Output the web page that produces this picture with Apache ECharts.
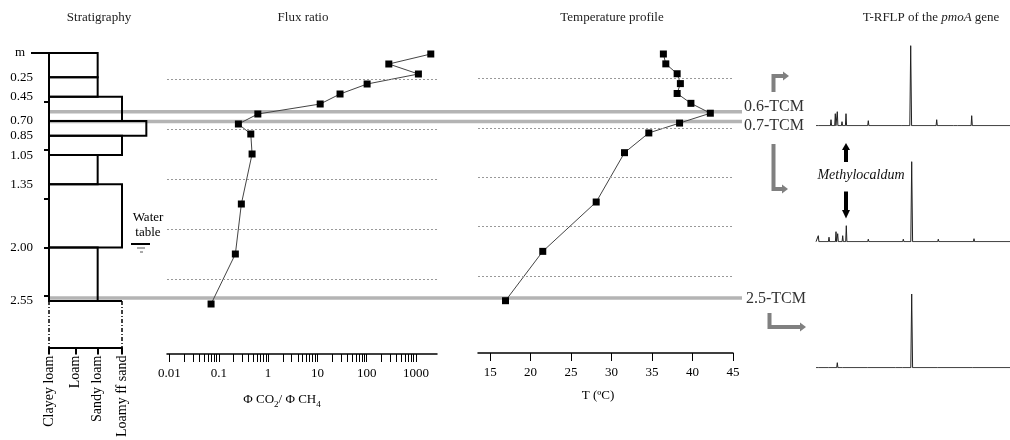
<!DOCTYPE html>
<html><head><meta charset="utf-8">
<script src="https://cdn.jsdelivr.net/npm/echarts@6/dist/echarts.min.js"></script>
<style>html,body{margin:0;padding:0;background:#fff}#c{width:1010px;height:440px}</style>
</head><body><div id="c"></div>
<script>
const FONT = '"Liberation Serif","Times New Roman",serif';

// ---- Stratigraphy ----
const textureNames = ['Clayey loam', 'Loam', 'Sandy loam', 'Loamy ff sand'];
const texturePos = [0, 1.1, 2, 3];
const layerTop = [0, 0.25, 0.45, 0.70, 0.85, 1.05, 1.35, 2.00, 2.55];
const layerBottom = [0.25, 0.45, 0.70, 0.85, 1.05, 1.35, 2.00, 2.55, 3.03];
const layerTexture = [2, 2, 3, 4, 3, 2, 3, 2, 3];
const layerUncertain = [0, 0, 0, 0, 0, 0, 0, 0, 1];
const depthLabels = [0.25, 0.45, 0.70, 0.85, 1.05, 1.35, 2.00, 2.55];
const depthTicks = [0.5, 1, 1.5, 2, 2.5];

// ---- Flux ratio & temperature profiles ----
const sampleDepth = [0, 0.1, 0.2, 0.3, 0.4, 0.5, 0.6, 0.7, 0.8, 1.0, 1.5, 2.0, 2.5];
const fluxRatio = [1995, 281, 1119, 102, 28.8, 11.4, 0.62, 0.25, 0.446, 0.474, 0.287, 0.217, 0.0698];
const fluxTickValues = [0.01, 0.1, 1, 10, 100, 1000];
const fluxTickLabels = ['0.01', '0.1', '1', '10', '100', '1000'];
const temperature = [36.4, 36.7, 38.1, 38.5, 38.1, 39.8, 42.2, 38.4, 34.6, 31.6, 28.1, 21.5, 16.9];
const tempTicks = [15, 20, 25, 30, 35, 40, 45];
const gridDepths = [0.25, 0.75, 1.25, 1.75, 2.25];

// ---- Sampling depths (TCM) ----
const tcmDepths = [0.6, 0.7, 2.5];
const tcmLabels = ['0.6-TCM', '0.7-TCM', '2.5-TCM'];

// ---- T-RFLP peaks [relative position, relative height] ----
const peaks06 = [[3.3, 2], [15, 6], [19.3, 12], [21.3, 14], [26, 4], [30, 12], [52.3, 5], [85.7, 2], [94.7, 80], [120.7, 6], [138, 1.5], [142, 1.5], [155.7, 10]];
const peaks07 = [[2.3, 6], [13, 4.5], [20, 10], [21.7, 8], [26.7, 6], [30.3, 16], [52.3, 2.5], [87.3, 2.5], [95.7, 80], [122.3, 2.5], [158, 3]];
const peaks25 = [[3.3, 2], [13, 2], [21.3, 5], [27, 1], [52.3, 1.5], [80, 1], [87.3, 1], [95.7, 73.7], [122.3, 2], [157.3, 2]];
const traceEnd = 194;

function trace(peaks) {
  const pts = [[0, 0]];
  peaks.forEach(([p, h]) => {
    const w = h > 30 ? 0.9 : 0.6;
    pts.push([p - w, 0], [p, h], [p + w, 0]);
  });
  pts.push([traceEnd, 0]);
  return pts;
}

const fluxMinor = [];
for (let e = -2; e <= 2; e++) for (let m = 1; m <= 9; m++) fluxMinor.push(Math.log10(m) + e);
fluxMinor.push(3);

const axisTxt = { fontFamily: FONT, fontSize: 13, color: '#000' };

function hiddenAxis(extra) { return Object.assign({ show: false, splitLine: { show: false } }, extra); }

const chart = echarts.init(document.getElementById('c'), null, { renderer: 'canvas' });

const gridLineMark = {
  silent: true, symbol: ['none', 'none'], label: { show: false },
  lineStyle: { type: [2, 2], color: '#999', width: 1 },
  data: gridDepths.map(d => ({ yAxis: d }))
};

function txt(x, y, text, size, extra) {
  return {
    type: 'text', x: x, y: y, silent: true,
    style: Object.assign({
      text: text, font: size + 'px ' + FONT, fill: '#222',
      align: 'center', verticalAlign: 'middle', textAlign: 'center', textVerticalAlign: 'middle'
    }, extra || {})
  };
}
function line(x1, y1, x2, y2, stroke, w) {
  return { type: 'line', silent: true, shape: { x1, y1, x2, y2 }, style: { stroke: stroke, lineWidth: w } };
}
function poly(points, fill) {
  return { type: 'polygon', silent: true, shape: { points: points }, style: { fill: fill } };
}
function polyl(points, stroke, w) {
  return { type: 'polyline', silent: true, shape: { points: points }, style: { stroke: stroke, lineWidth: w, fill: null, lineJoin: 'miter' } };
}

const option = {
  animation: false,
  backgroundColor: '#fff',
  textStyle: { fontFamily: FONT },
  grid: [
    { left: 49, top: 53, width: 73, height: 297 },          // 0 stratigraphy
    { left: 167, top: 54, width: 270, height: 300 },        // 1 flux
    { left: 478, top: 54, width: 255, height: 299 },        // 2 temperature
    { left: 816, top: 44.7, width: 194, height: 81 },       // 3 trace 0.6
    { left: 816, top: 160.7, width: 194, height: 81 },      // 4 trace 0.7
    { left: 816, top: 286.7, width: 194, height: 81 },      // 5 trace 2.5
    { left: 50, top: 53, width: 692, height: 297 }          // 6 TCM lines overlay
  ],
  xAxis: [
    {
      gridIndex: 0, type: 'value', min: 0, max: 3, position: 'bottom',
      axisLine: { onZero: false, lineStyle: { color: '#000', width: 2 } },
      axisTick: { customValues: texturePos, length: 7, lineStyle: { color: '#000', width: 2 } },
      axisLabel: {
        customValues: texturePos, rotate: 90, margin: 8, fontFamily: FONT, fontSize: 14, color: '#000',
        formatter: v => {
          let best = 0;
          texturePos.forEach((p, i) => { if (Math.abs(p - v) < Math.abs(texturePos[best] - v)) best = i; });
          return textureNames[best];
        }
      },
      splitLine: { show: false }
    },
    {
      gridIndex: 1, type: 'value', min: -2.05, max: 3.426, position: 'bottom',
      axisLine: { onZero: false, lineStyle: { color: '#000', width: 1.5 } },
      axisTick: { customValues: fluxMinor, length: 8, lineStyle: { color: '#000', width: 1 } },
      axisLabel: Object.assign({
        customValues: fluxTickValues.map(v => Math.log10(v)), margin: 13,
        formatter: v => fluxTickLabels[Math.round(v) + 2]
      }, axisTxt),
      splitLine: { show: false },
      name: 'Φ CO{s|2}/ Φ CH{s|4}', nameLocation: 'middle', nameGap: 36,
      nameTextStyle: {
        fontFamily: FONT, fontSize: 13, color: '#000', lineHeight: 19, padding: [0, 40, 0, 0],
        rich: { s: { fontFamily: FONT, fontSize: 9, lineHeight: 9, verticalAlign: 'bottom', color: '#000' } }
      }
    },
    {
      gridIndex: 2, type: 'value', min: 13.5, max: 45, position: 'bottom',
      axisLine: { onZero: false, lineStyle: { color: '#000', width: 1.5 } },
      axisTick: { customValues: tempTicks, length: 8, lineStyle: { color: '#000', width: 1 } },
      axisLabel: Object.assign({ customValues: tempTicks, margin: 13 }, axisTxt),
      splitLine: { show: false },
      name: 'T (ºC)', nameLocation: 'middle', nameGap: 36,
      nameTextStyle: { fontFamily: FONT, fontSize: 13, color: '#000', padding: [0, 15, 0, 0] }
    },
    hiddenAxis({ gridIndex: 3, type: 'value', min: 0, max: traceEnd }),
    hiddenAxis({ gridIndex: 4, type: 'value', min: 0, max: traceEnd }),
    hiddenAxis({ gridIndex: 5, type: 'value', min: 0, max: traceEnd }),
    hiddenAxis({ gridIndex: 6, type: 'value', min: 0, max: 1 })
  ],
  yAxis: [
    {
      gridIndex: 0, type: 'value', inverse: true, min: 0, max: 3.03,
      axisLine: { show: false, onZero: false },
      axisTick: { show: true, customValues: depthTicks, length: 5, lineStyle: { color: '#000', width: 2 } },
      axisLabel: Object.assign({ customValues: depthLabels, margin: 16, formatter: v => v.toFixed(2) }, axisTxt),
      splitLine: { show: false }
    },
    hiddenAxis({ gridIndex: 1, type: 'value', inverse: true, min: 0, max: 3 }),
    hiddenAxis({ gridIndex: 2, type: 'value', inverse: true, min: 0, max: 3.03 }),
    hiddenAxis({ gridIndex: 3, type: 'value', min: 0, max: 81 }),
    hiddenAxis({ gridIndex: 4, type: 'value', min: 0, max: 81 }),
    hiddenAxis({ gridIndex: 5, type: 'value', min: 0, max: 81 }),
    hiddenAxis({ gridIndex: 6, type: 'value', inverse: true, min: 0, max: 3.03 })
  ],
  series: [
    {
      type: 'custom', xAxisIndex: 6, yAxisIndex: 6, z: 1, silent: true, clip: false,
      data: tcmDepths.map(d => [d]),
      renderItem: (params, api) => {
        const d = api.value(0);
        const a = api.coord([0, d]), b = api.coord([1, d]);
        return { type: 'line', shape: { x1: a[0], y1: a[1], x2: b[0], y2: b[1] }, style: { stroke: '#b4b4b4', lineWidth: 3.5 } };
      }
    },
    {
      type: 'custom', xAxisIndex: 0, yAxisIndex: 0, z: 3, silent: true, clip: false,
      data: layerTop.map((t, i) => [t, layerBottom[i], layerTexture[i], layerUncertain[i]]),
      renderItem: (params, api) => {
        const top = api.value(0), bot = api.value(1), tex = api.value(2), unc = api.value(3);
        const a = api.coord([0, top]), b = api.coord([tex, bot]);
        const st = { stroke: '#000', lineWidth: 2, fill: 'none' };
        const children = [];
        if (!unc) {
          children.push({ type: 'rect', shape: { x: a[0], y: a[1], width: b[0] - a[0], height: b[1] - a[1] }, style: st });
        } else {
          children.push({ type: 'line', shape: { x1: a[0], y1: a[1], x2: b[0], y2: a[1] }, style: { stroke: '#000', lineWidth: 2 } });
          children.push({ type: 'line', shape: { x1: a[0], y1: a[1], x2: a[0], y2: b[1] }, style: { stroke: '#000', lineWidth: 1.5, lineDash: [4, 2, 1, 2] } });
          children.push({ type: 'line', shape: { x1: b[0], y1: a[1], x2: b[0], y2: b[1] }, style: { stroke: '#000', lineWidth: 1.5, lineDash: [4, 2, 1, 2] } });
        }
        if (params.dataIndex === 0) {
          children.push({ type: 'line', shape: { x1: a[0] - 18, y1: a[1], x2: a[0], y2: a[1] }, style: { stroke: '#000', lineWidth: 2 } });
        }
        return { type: 'group', children: children };
      }
    },
    {
      type: 'line', xAxisIndex: 1, yAxisIndex: 1, z: 4,
      data: sampleDepth.map((d, i) => [Math.log10(fluxRatio[i]), d]),
      symbol: 'rect', symbolSize: 7, showSymbol: true,
      itemStyle: { color: '#000' }, lineStyle: { color: '#444', width: 1 },
      markLine: gridLineMark
    },
    {
      type: 'line', xAxisIndex: 2, yAxisIndex: 2, z: 4,
      data: sampleDepth.map((d, i) => [temperature[i], d]),
      symbol: 'rect', symbolSize: 7, showSymbol: true,
      itemStyle: { color: '#000' }, lineStyle: { color: '#444', width: 1 },
      markLine: gridLineMark
    },
    { type: 'line', xAxisIndex: 3, yAxisIndex: 3, data: trace(peaks06), showSymbol: false, silent: true, lineStyle: { color: '#222', width: 1 } },
    { type: 'line', xAxisIndex: 4, yAxisIndex: 4, data: trace(peaks07), showSymbol: false, silent: true, lineStyle: { color: '#222', width: 1 } },
    { type: 'line', xAxisIndex: 5, yAxisIndex: 5, data: trace(peaks25), showSymbol: false, silent: true, lineStyle: { color: '#222', width: 1 } }
  ],
  graphic: [
    txt(99, 18, 'Stratigraphy', 13),
    txt(303, 18, 'Flux ratio', 13),
    txt(612, 18, 'Temperature profile', 13),
    txt(931, 18, 'T-RFLP of the {i|pmoA} gene', 13, { rich: { i: { font: 'italic 13px ' + FONT, fill: '#222' } } }),
    txt(20, 53, 'm', 13, { fill: '#000' }),
    txt(148, 218, 'Water', 13, { fill: '#000' }),
    txt(148, 233, 'table', 13, { fill: '#000' }),
    line(131, 244, 150, 244, '#000', 2),
    line(137, 248, 145, 248, '#555', 1),
    line(140, 252, 143, 252, '#555', 1),
    txt(744, 106.5, tcmLabels[0], 16, { fill: '#333', align: 'left', textAlign: 'left' }),
    txt(744, 126, tcmLabels[1], 16, { fill: '#333', align: 'left', textAlign: 'left' }),
    txt(746, 299, tcmLabels[2], 16, { fill: '#333', align: 'left', textAlign: 'left' }),
    // gray bent arrows
    polyl([[773.5, 92], [773.5, 76], [784, 76]], '#808080', 4),
    poly([[783, 71.5], [783, 80.5], [789, 76]], '#808080'),
    polyl([[773.5, 144], [773.5, 189], [783, 189]], '#808080', 4),
    poly([[782, 184.5], [782, 193.5], [788, 189]], '#808080'),
    polyl([[769.5, 313], [769.5, 327], [801, 327]], '#808080', 4),
    poly([[800, 322.5], [800, 331.5], [806, 327]], '#808080'),
    // Methylocaldum arrows
    txt(861, 175, 'Methylocaldum', 14, { font: 'italic 14px ' + FONT, fill: '#111' }),
    { type: 'rect', silent: true, shape: { x: 844, y: 149, width: 4, height: 13 }, style: { fill: '#000' } },
    poly([[842, 150], [850, 150], [846, 143]], '#000'),
    { type: 'rect', silent: true, shape: { x: 844, y: 191.5, width: 4, height: 19 }, style: { fill: '#000' } },
    poly([[842, 210], [850, 210], [846, 218.5]], '#000')
  ]
};
chart.setOption(option);
</script>
</body></html>
